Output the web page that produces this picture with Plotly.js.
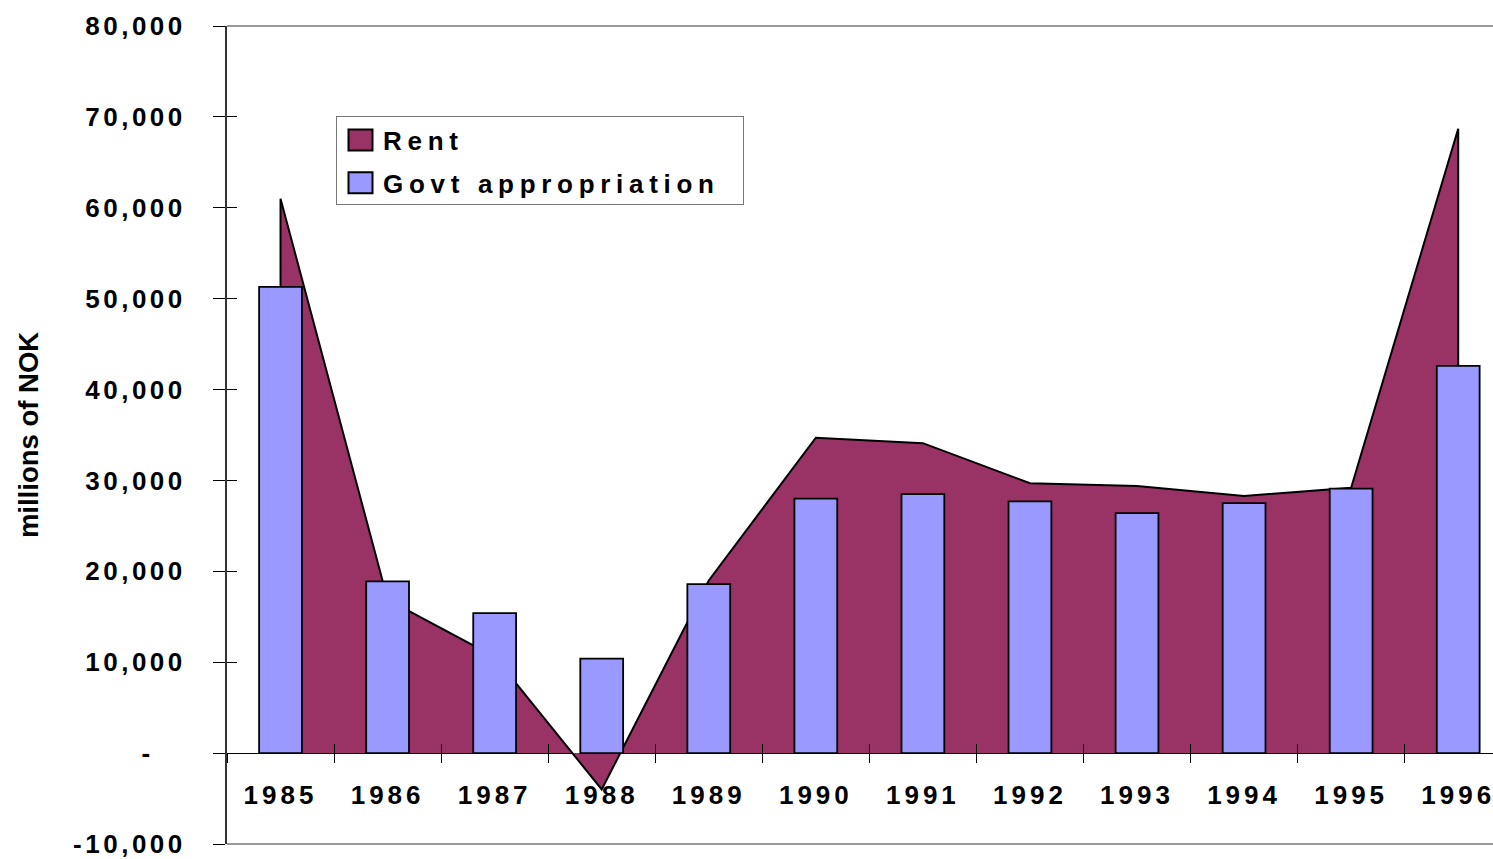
<!DOCTYPE html>
<html><head><meta charset="utf-8">
<script src="https://cdn.plot.ly/plotly-3.0.1.min.js"></script>
<style>
body{margin:0;background:#fff}
.xtick text{letter-spacing:4px}
.ytick text{letter-spacing:3.5px}
.legendtext{letter-spacing:5.7px;transform:translateX(6px)}
.legend rect.bg{width:407px !important;height:88px !important}
.legendlines path{display:none}
.legendfill path{transform:translate(23.5px,0px) scale(0.8,3.5) translate(-20px,-1px);stroke:#000 !important;stroke-width:2px !important;vector-effect:non-scaling-stroke}
.legendpoints path{transform:translate(23.5px,0px) scale(2,1.75);stroke-width:2px !important;vector-effect:non-scaling-stroke}
</style>
</head><body><div id="chart" style="width:1493px;height:859px"></div>
<script>
const years=['1985','1986','1987','1988','1989','1990','1991','1992','1993','1994','1995','1996'];
const rent=[61000,16900,10600,-4000,19000,34700,34100,29700,29400,28300,29200,68700];
const govt=[51300,18900,15400,10400,18600,28000,28500,27700,26400,27500,29100,42600];
const yTickVals=[-10000,0,10000,20000,30000,40000,50000,60000,70000,80000];
const yTickText=['-10,000','-\u00a0\u00a0\u00a0','10,000','20,000','30,000','40,000','50,000','60,000','70,000','80,000'];

const FONT={family:'"Liberation Sans", Arial, sans-serif',size:26,color:'#000',weight:700};
const xRange=[-0.5,11.325];
const yRange=[-10000,80000];
const data=[
 {type:'scatter',name:'Rent',legendgroup:'a',
  x:[years[0],...years,years[years.length-1]],y:[0,...rent,0],
  fill:'tozeroy',fillcolor:'#993366',mode:'lines',line:{color:'#000',width:2},hoverinfo:'skip'},
 {type:'bar',name:'Govt appropriation',legendgroup:'b',x:years,y:govt,xaxis:'x2',yaxis:'y2',
  marker:{color:'#9999FF',line:{color:'#000',width:1.8}},width:0.4}
];
const xCommon={type:'category',range:xRange,anchor:'free',position:1/9,showgrid:false,zeroline:false,showline:false,
 tickson:'boundaries',ticklen:9,tickwidth:1,tickcolor:'#000',fixedrange:true};
const layout={width:1493,height:859,margin:{l:227,r:0,t:26,b:15},
 paper_bgcolor:'#fff',plot_bgcolor:'#fff',font:FONT,showlegend:true,
 xaxis:Object.assign({},xCommon,{ticks:'outside',tickfont:FONT,ticklabelstandoff:24,ticklabeloverflow:'allow'}),
 xaxis2:Object.assign({},xCommon,{overlaying:'x',ticks:'inside',showticklabels:false}),
 yaxis:{range:yRange,tickmode:'array',tickvals:yTickVals,ticktext:yTickText,ticks:'outside',ticklen:12,tickwidth:1,tickcolor:'#000',
  showgrid:false,showline:true,linecolor:'#333',linewidth:2,zeroline:true,zerolinecolor:'#000',zerolinewidth:1,
  tickfont:FONT,ticklabelstandoff:22,ticklabeloverflow:'allow',
  title:{text:'millions of NOK',font:Object.assign({},FONT,{size:27.5}),standoff:26},fixedrange:true},
 yaxis2:{range:yRange,overlaying:'y',tickmode:'array',tickvals:yTickVals,ticks:'inside',ticklen:10,tickwidth:1,tickcolor:'#000',
  showticklabels:false,showgrid:false,zeroline:false,showline:false,fixedrange:true},
 legend:{x:0.0861,y:0.8905,xanchor:'left',yanchor:'top',bgcolor:'#fff',bordercolor:'#777',borderwidth:1,
  font:FONT,traceorder:'grouped',tracegroupgap:6,itemclick:false,itemdoubleclick:false},
 shapes:[
  {type:'line',xref:'paper',yref:'paper',x0:0,x1:1,y0:1,y1:1,line:{color:'#999',width:2}},
  {type:'line',xref:'paper',yref:'paper',x0:0,x1:1,y0:0,y1:0,line:{color:'#999',width:2}}
 ]};
Plotly.newPlot('chart',data,layout,{displayModeBar:false,staticPlot:true});
</script></body></html>
